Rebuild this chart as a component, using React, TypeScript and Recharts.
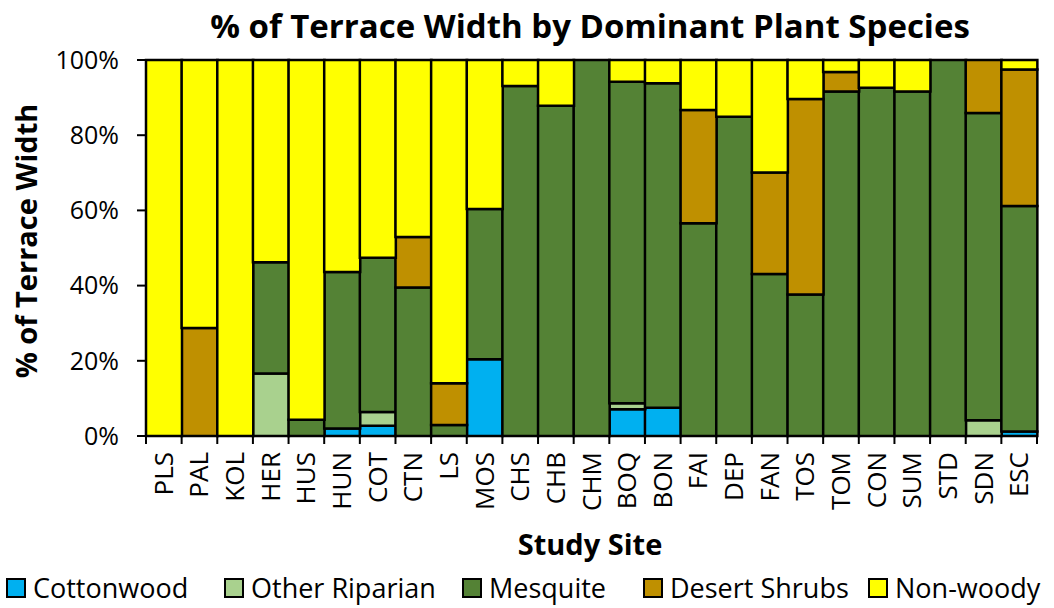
import { BarChart, Bar, XAxis, YAxis } from "recharts";

const SITES = [
	"PLS", "PAL", "KOL", "HER", "HUS", "HUN", "COT", "CTN", "LS", "MOS", "CHS", "CHB", "CHM",
	"BOQ", "BON", "FAI", "DEP", "FAN", "TOS", "TOM", "CON", "SUM", "STD", "SDN", "ESC",
];

// % of terrace width per site
const COTTONWOOD = [0, 0, 0, 0, 0, 2.0, 2.7, 0, 0, 20.4, 0, 0, 0, 7.1, 7.5, 0, 0, 0, 0, 0, 0, 0, 0, 0, 1.2];
const OTHER_RIPARIAN = [0, 0, 0, 16.6, 0, 0, 3.7, 0, 0, 0, 0, 0, 0, 1.6, 0, 0, 0, 0, 0, 0, 0, 0, 0, 4.2, 0];
const MESQUITE = [0, 0, 0, 29.6, 4.3, 41.6, 41.0, 39.5, 2.9, 40.0, 93.1, 87.8, 100, 85.5, 86.3, 56.6, 84.9, 43.1, 37.6, 91.6, 92.6, 91.6, 100, 81.7, 60.0];
const DESERT_SHRUBS = [0, 28.7, 0, 0, 0, 0, 0, 13.4, 11.1, 0, 0, 0, 0, 0, 0, 30.1, 0, 27.0, 52.0, 5.2, 0, 0, 0, 14.1, 36.3];
const NON_WOODY = [100, 71.3, 100, 53.8, 95.7, 56.4, 52.6, 47.1, 86.0, 39.6, 6.9, 12.2, 0, 5.8, 6.2, 13.3, 15.1, 29.9, 10.4, 3.2, 7.4, 8.4, 0, 0, 2.5];

const Y_TICKS = [0, 20, 40, 60, 80, 100];

const SERIES = [
	{ key: "cottonwood", label: "Cottonwood", fill: "#00B0F0" },
	{ key: "otherRiparian", label: "Other Riparian", fill: "#A9D18E" },
	{ key: "mesquite", label: "Mesquite", fill: "#548235" },
	{ key: "desertShrubs", label: "Desert Shrubs", fill: "#BF9000" },
	{ key: "nonWoody", label: "Non-woody", fill: "#FFFF00" },
];
// left edge of each legend swatch
const LEGEND_X = [6, 224, 462, 643, 868];

const data = SITES.map((site, i) => ({
	site,
	cottonwood: COTTONWOOD[i],
	otherRiparian: OTHER_RIPARIAN[i],
	mesquite: MESQUITE[i],
	desertShrubs: DESERT_SHRUBS[i],
	nonWoody: NON_WOODY[i],
}));

const FONT = "'Open Sans', sans-serif";
const PLOT_LEFT = 146;
const PLOT_RIGHT = 1037;
const BAND = (PLOT_RIGHT - PLOT_LEFT) / SITES.length;

function SiteTick(props: any) {
	const { x, y, payload, index } = props;
	return (
		<g>
			<line x1={x - BAND / 2} y1={y} x2={x - BAND / 2} y2={y + 8} stroke="#000" strokeWidth={2} />
			{index === SITES.length - 1 && (
				<line x1={x + BAND / 2} y1={y} x2={x + BAND / 2} y2={y + 8} stroke="#000" strokeWidth={2} />
			)}
			<text
				x={0}
				y={0}
				transform={`translate(${x + 9},${y + 16}) rotate(-90)`}
				textAnchor="end"
				fontSize={26}
				fontFamily={FONT}
				fill="#000"
			>
				{payload.value}
			</text>
		</g>
	);
}

export default function App() {
	return (
		<div style={{ position: "absolute", left: 0, top: 0, width: 1054, height: 608, background: "#fff", fontFamily: FONT }}>
			<div
				style={{
					position: "absolute",
					left: 0,
					width: 1180,
					top: 4,
					textAlign: "center",
					fontSize: 33,
					fontWeight: 700,
					lineHeight: "44px",
					whiteSpace: "nowrap",
				}}
			>
				% of Terrace Width by Dominant Plant Species
			</div>
			<div
				style={{
					position: "absolute",
					left: 25,
					top: 241,
					transform: "translate(-50%, -50%) rotate(-90deg)",
					whiteSpace: "nowrap",
					fontSize: 29,
					fontWeight: 700,
				}}
			>
				% of Terrace Width
			</div>
			<BarChart
				width={1054}
				height={608}
				data={data}
				barCategoryGap={0}
				margin={{ top: 60, right: 1054 - PLOT_RIGHT, bottom: 112, left: 66 }}
			>
				<XAxis
					dataKey="site"
					height={60}
					interval={0}
					tickLine={false}
					tickSize={0}
					tickMargin={0}
					axisLine={{ stroke: "#000", strokeWidth: 2 }}
					tick={<SiteTick />}
				/>
				<YAxis
					width={80}
					domain={[0, 100]}
					ticks={Y_TICKS}
					tickFormatter={(v: number) => `${v}%`}
					tickSize={9}
					tickMargin={18}
					axisLine={{ stroke: "#000", strokeWidth: 2 }}
					tickLine={{ stroke: "#000", strokeWidth: 2 }}
					tick={{ fontSize: 25, fill: "#000", fontFamily: FONT }}
				/>
				{SERIES.map((s) => (
					<Bar
						key={s.key}
						dataKey={s.key}
						stackId="a"
						fill={s.fill}
						stroke="#000"
						strokeWidth={2.5}
						isAnimationActive={false}
					/>
				))}
			</BarChart>
			<div
				style={{
					position: "absolute",
					left: 0,
					width: 1180,
					top: 524,
					textAlign: "center",
					fontSize: 29,
					fontWeight: 700,
					lineHeight: "40px",
				}}
			>
				Study Site
			</div>
			{SERIES.map((s, i) => (
				<div
					key={s.key}
					style={{
						position: "absolute",
						left: LEGEND_X[i],
						top: 573,
						height: 30,
						display: "flex",
						alignItems: "center",
						gap: 7,
						fontSize: 27,
						lineHeight: "30px",
						whiteSpace: "nowrap",
					}}
				>
					<span
						style={{
							display: "inline-block",
							boxSizing: "border-box",
							width: 20,
							height: 20,
							background: s.fill,
							border: "2.5px solid #000",
						}}
					/>
					<span>{s.label}</span>
				</div>
			))}
		</div>
	);
}
